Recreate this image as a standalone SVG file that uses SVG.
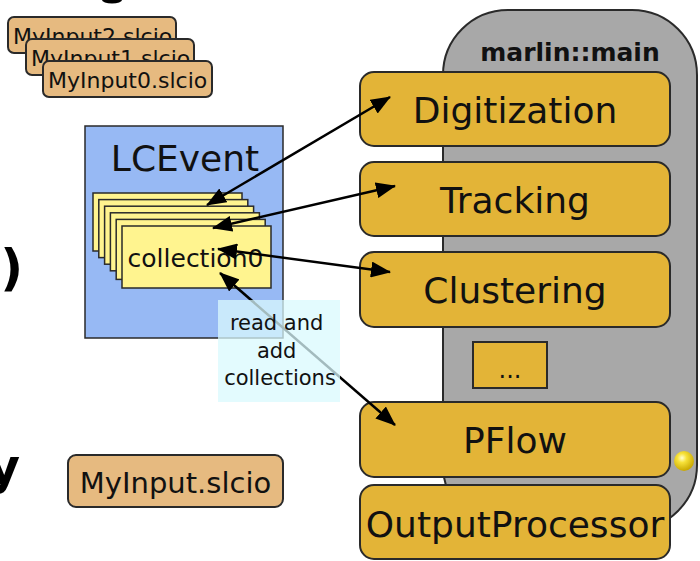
<svg xmlns="http://www.w3.org/2000/svg" width="700" height="561" viewBox="0 0 700 561">
  <defs>
    <style>
      .t { font-family: "DejaVu Sans", Verdana, sans-serif; fill: #111; }
      .proc { fill: #E3B437; stroke: #2a2a2a; stroke-width: 2; }
      .file { fill: #E6BA80; stroke: #2a2a2a; stroke-width: 2; }
      .sheet { fill: #FFF48F; stroke: #2a2a2a; stroke-width: 1.5; }
      .conn { stroke: #000; stroke-width: 2.5; fill: none; marker-start: url(#ah); marker-end: url(#ah); }
      .hand { font-family: "DejaVu Sans", sans-serif; font-weight: bold; fill: #000; }
    </style>
    <marker id="ah" viewBox="0 0 20 16" refX="19" refY="8" markerWidth="20" markerHeight="16" markerUnits="userSpaceOnUse" orient="auto-start-reverse">
      <path d="M0,0 L20,8 L0,16 z" fill="#000"/>
    </marker>
    <radialGradient id="ball" cx="0.4" cy="0.35" r="0.65">
      <stop offset="0" stop-color="#FFFFD0"/>
      <stop offset="0.35" stop-color="#F7E23A"/>
      <stop offset="1" stop-color="#C9A800"/>
    </radialGradient>
  </defs>

  <rect x="0" y="0" width="700" height="561" fill="#fff"/>

  <!-- slide fragments at the edges -->
  <g id="fragments">
    <ellipse cx="112" cy="0" rx="10" ry="3.5" fill="#000"/>
    <text class="hand" x="23" y="285" font-size="50" text-anchor="end">3)</text>
    <text class="hand" x="20" y="484" font-size="50" text-anchor="end">y</text>
  </g>

  <!-- marlin::main container -->
  <g id="marlin-main">
    <rect x="443" y="10" width="254" height="520" rx="65" ry="65" fill="#A8A8A8" stroke="#2a2a2a" stroke-width="2"/>
    <text class="t" x="570" y="61" font-size="25" font-weight="bold" text-anchor="middle">marlin::main</text>
  </g>

  <!-- input files -->
  <g id="MyInput2">
    <rect class="file" x="8" y="17" width="168" height="36" rx="6"/>
    <text class="t" x="13" y="44" font-size="22">MyInput2.slcio</text>
  </g>
  <g id="MyInput1">
    <rect class="file" x="26" y="39" width="168" height="36" rx="6"/>
    <text class="t" x="31" y="66" font-size="22">MyInput1.slcio</text>
  </g>
  <g id="MyInput0">
    <rect class="file" x="43" y="61" width="169" height="36" rx="6"/>
    <text class="t" x="48" y="88" font-size="22">MyInput0.slcio</text>
  </g>
  <g id="MyInput">
    <rect class="file" x="68" y="455" width="215" height="52" rx="8"/>
    <text class="t" x="175.5" y="493" font-size="29" text-anchor="middle">MyInput.slcio</text>
  </g>

  <!-- LCEvent -->
  <g id="LCEvent">
    <rect x="85" y="126" width="198" height="212" fill="#97B9F4" stroke="#2a2a2a" stroke-width="1.5"/>
    <text class="t" x="185" y="171" font-size="36" text-anchor="middle">LCEvent</text>
  </g>
  <g id="collections">
    <rect class="sheet" x="93" y="193" width="149" height="58"/>
    <rect class="sheet" x="98.8" y="199.6" width="149" height="58"/>
    <rect class="sheet" x="104.6" y="206.2" width="149" height="58"/>
    <rect class="sheet" x="110.4" y="212.8" width="149" height="58"/>
    <rect class="sheet" x="116.2" y="219.4" width="149" height="60"/>
    <rect class="sheet" x="122" y="226" width="149" height="62"/>
    <text class="t" x="195.5" y="267" font-size="25" text-anchor="middle">collection0</text>
  </g>

  <!-- processors -->
  <g id="Digitization">
    <rect class="proc" x="360" y="72" width="310" height="74" rx="14"/>
    <text class="t" x="515" y="123" font-size="36" text-anchor="middle">Digitization</text>
  </g>
  <g id="Tracking">
    <rect class="proc" x="360" y="162" width="310" height="74" rx="14"/>
    <text class="t" x="515" y="213" font-size="36" text-anchor="middle">Tracking</text>
  </g>
  <g id="Clustering">
    <rect class="proc" x="360" y="252" width="310" height="75" rx="14"/>
    <text class="t" x="515" y="303" font-size="36" text-anchor="middle">Clustering</text>
  </g>
  <g id="more">
    <rect class="proc" x="473" y="342" width="74" height="46"/>
    <text class="t" x="510" y="378" font-size="24" text-anchor="middle">...</text>
  </g>
  <g id="PFlow">
    <rect class="proc" x="360" y="402" width="310" height="75" rx="14"/>
    <text class="t" x="515" y="453" font-size="36" text-anchor="middle">PFlow</text>
  </g>
  <g id="OutputProcessor">
    <rect class="proc" x="360" y="485" width="310" height="74" rx="14"/>
    <text class="t" x="515" y="537" font-size="36" text-anchor="middle">OutputProcessor</text>
  </g>
  <g id="ball-node">
    <circle cx="684" cy="461" r="10" fill="url(#ball)"/>
  </g>

  <!-- connectors -->
  <g id="connectors">
    <line class="conn" x1="207" y1="205" x2="390" y2="97"/>
    <line class="conn" x1="213" y1="228" x2="395" y2="186"/>
    <line class="conn" x1="218" y1="249" x2="390" y2="272"/>
    <line class="conn" x1="220" y1="273" x2="395" y2="425"/>
  </g>

  <!-- edge label -->
  <g id="label-read-add">
    <rect x="218" y="300" width="122" height="102" fill="#D9FAFE" fill-opacity="0.75"/>
    <text class="t" font-size="21" text-anchor="middle">
      <tspan x="280" y="330">read and</tspan>
      <tspan x="280" y="358">add</tspan>
      <tspan x="280" y="385">collections</tspan>
    </text>
  </g>
</svg>
